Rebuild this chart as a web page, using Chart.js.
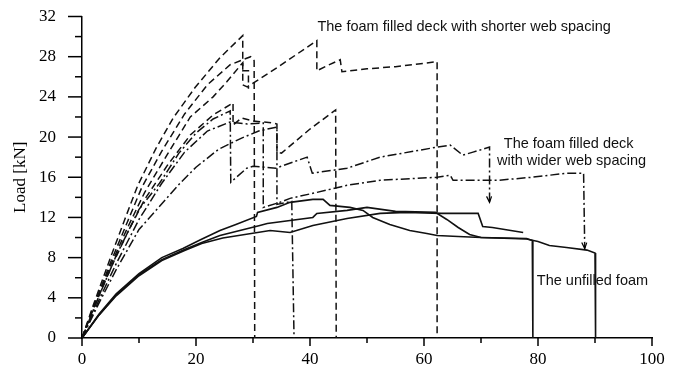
<!DOCTYPE html>
<html><head><meta charset="utf-8">
<script src="https://cdn.jsdelivr.net/npm/chart.js@4.4.1/dist/chart.umd.min.js"></script>
<style>html,body{margin:0;padding:0;background:#fff}#wrap{width:680px;height:376px}</style>
</head><body><div id="wrap"><canvas id="c" width="680" height="376"></canvas></div>
<script>
// Displacement (x) / Load kN (y) pairs
const shorterA_x=[0,2,5,7.5,9.8,13,16,19.8,24.2,28.2,28.2,29,34.2,41.2,41.2,43,45.3,45.6,50,55,62.3,62.3];
const shorterA_y=[0,3.3,8,11.8,15.2,18.9,21.9,24.9,27.9,30.1,25.2,25,26.9,29.6,26.6,27.1,27.7,26.5,26.8,27,27.5,0];
const shorterB_x=[0,2,5,8,10.5,14,18,22,26,29.6,30.2,30.3];
const shorterB_y=[0,3.1,7.5,11.6,15,18.6,22.3,25.2,27.2,28,27.6,0];
const shorterC_x=[0,2,5,8,11,15,19,23,25.4,28.2,28.2,29.2,29.2];
const shorterC_y=[0,3,7.2,11,14.5,18.3,22,24,25.5,27.4,26.6,26.6,24.8];
const shorterD_x=[0,2,5,8,11,15,19,23,26.5,26.5,28,30,33.5,34.2,34.2,35,40,44.5,44.6];
const shorterD_y=[0,2.9,6.9,10.5,13.8,17.2,20.2,22.2,23.4,21.2,21.9,21.6,21.4,21.3,18.5,18.4,20.8,22.7,0];
const widerA_x=[0,3,6,10,13.6,17,20,23,26,26.1,28.9,30,34,39.5,40.4,46.5,52.3,62.3,64.6,66.8,68.6,71.5,71.5];
const widerA_y=[0,4.2,8.2,12.8,15.4,18.4,20.4,21.8,22.6,15.5,16.9,17.1,16.9,18,16.4,16.9,18,19,19.2,18.2,18.5,19,13.5];
const widerB_x=[0,3,6,10,14,18,22,26,29,31.8,31.8,34.7,36.5,40.5,46.5,52.3,62.3,64.6,65.1,73,79,85,88,88.2];
const widerB_y=[0,3.8,7.4,11.8,15.4,18.5,20.6,21.5,21.3,21.4,13,13.5,13.9,14.4,15.2,15.7,16,16.2,15.7,15.7,16,16.4,16.4,8.9];
const widerC_x=[0,3,6,10,17.2,20,24,28,31,34.2,34.2,36.8,37.2];
const widerC_y=[0,3.5,6.8,10.8,15.4,17,18.8,19.9,20.6,21,13.3,13.6,0];
const unfilledA_x=[0,3,6,10,14,17.7,20.7,24.2,27,30.6,30.8,34.2,36.5,40.5,42.3,43.5,47,49.3,51,54,57.5,60.5,62.3,66,70,78,79,79.1];
const unfilledA_y=[0,2.4,4.4,6.4,8,8.9,9.75,10.7,11.3,12.1,12.5,13,13.5,13.8,13.8,13.2,13,12.7,12,11.3,10.7,10.4,10.2,10.1,10,9.9,9.7,0];
const unfilledB_x=[0,3,6,10,14,18,21,24.2,31.2,32.5,40.5,41.2,46.5,50,55,62,64,66,68,70,78,80,82,85,88.6,90,90.1];
const unfilledB_y=[0,2.3,4.3,6.3,7.8,8.8,9.5,10.2,11.2,11.4,12,12.4,12.7,13,12.6,12.5,11.8,11,10.3,10,9.85,9.6,9.2,9,8.75,8.45,0];
const unfilledC_x=[0,3,6,10,14,18,21,24.7,33,36.5,40.5,46.5,52.3,57,63,69.5,70.3,72,77.4];
const unfilledC_y=[0,2.3,4.2,6.2,7.7,8.7,9.4,9.95,10.7,10.5,11.2,11.9,12.4,12.5,12.4,12.4,11.1,11,10.5];
const xTicks=[0,20,40,60,80,100];
const yTicks=[0,4,8,12,16,20,24,28,32];
const labelShorter="The foam filled deck with shorter web spacing";
const labelWider=["The foam filled deck","with wider web spacing"];
const labelUnfilled="The unfilled foam";

const zip=(xs,ys)=>xs.map((x,i)=>({x:x,y:ys[i]}));
const DASH=[7,4], DASHDOT=[9,3,2,3];
function ds(xs,ys,dash,w){return {data:zip(xs,ys),borderColor:'#111',borderWidth:w||1.5,borderDash:dash||[],pointRadius:0,showLine:true,fill:false,tension:0};}
const datasets=[
 ds(shorterA_x,shorterA_y,DASH),ds(shorterB_x,shorterB_y,DASH),ds(shorterC_x,shorterC_y,DASH),ds(shorterD_x,shorterD_y,DASH),
 ds(widerA_x,widerA_y,DASHDOT),ds(widerB_x,widerB_y,DASHDOT),ds(widerC_x,widerC_y,DASHDOT),
 ds(unfilledA_x,unfilledA_y,[],1.6),ds(unfilledB_x,unfilledB_y,[],1.6),ds(unfilledC_x,unfilledC_y,[],1.6)
];
const arrowSets=[4,5];

const deco={id:'deco',
 afterDatasetsDraw(chart){
  const c=chart.ctx,xs=chart.scales.x,ys=chart.scales.y,a=chart.chartArea;
  c.save();
  c.strokeStyle='#000';c.lineWidth=1.5;c.setLineDash([]);
  for(let v=0;v<=32;v+=2){const p=ys.getPixelForValue(v);const L=(v%4===0)?14:7;c.beginPath();c.moveTo(a.left-L,p);c.lineTo(a.left,p);c.stroke();}
  for(let v=0;v<=100;v+=10){const p=xs.getPixelForValue(v);const L=(v%20===0)?8:5;c.beginPath();c.moveTo(p,a.bottom);c.lineTo(p,a.bottom+L);c.stroke();}
  c.lineWidth=1.2;
  arrowSets.forEach(i=>{const d=chart.data.datasets[i].data;const q=d[d.length-1];const px=xs.getPixelForValue(q.x),py=ys.getPixelForValue(q.y);c.beginPath();c.moveTo(px-3,py-6);c.lineTo(px,py);c.lineTo(px+2,py-6);c.stroke();});
  c.fillStyle='#111';c.font='14.5px "Liberation Sans", Arial, sans-serif';c.textBaseline='middle';c.textAlign='left';
  c.fillText(labelShorter,xs.getPixelForValue(41.3),ys.getPixelForValue(31));
  c.fillText(labelWider[0],xs.getPixelForValue(74),ys.getPixelForValue(19.3));
  c.fillText(labelWider[1],xs.getPixelForValue(72.8),ys.getPixelForValue(17.6));
  c.fillText(labelUnfilled,xs.getPixelForValue(79.8),ys.getPixelForValue(5.7));
  c.restore();
 }};

new Chart(document.getElementById('c'),{
 type:'scatter',
 data:{datasets:datasets},
 plugins:[deco],
 options:{responsive:false,animation:false,events:[],
  layout:{padding:{left:0,right:28,top:16.5,bottom:0}},
  plugins:{legend:{display:false},tooltip:{enabled:false}},
  scales:{
   x:{type:'linear',min:0,max:100,afterBuildTicks:s=>{s.ticks=xTicks.map(v=>({value:v}));},
      afterFit:s=>{s.height=38;},
      grid:{display:false,drawTicks:false},border:{display:true,color:'#000',width:1.5},
      ticks:{color:'#000',padding:11,font:{family:'"Liberation Serif", "Times New Roman", serif',size:17}}},
   y:{type:'linear',min:0,max:32,afterBuildTicks:s=>{s.ticks=yTicks.map(v=>({value:v}));},
      afterFit:s=>{s.width=82;},
      grid:{display:true,drawOnChartArea:false,drawTicks:true,tickLength:24,tickColor:'rgba(0,0,0,0)'},border:{display:true,color:'#000',width:1.5},
      title:{display:true,text:'Load [kN]',color:'#000',padding:{top:10,bottom:0},font:{family:'"Liberation Serif", "Times New Roman", serif',size:17}},
      ticks:{color:'#000',padding:2,font:{family:'"Liberation Serif", "Times New Roman", serif',size:17}}}
  }}
});
</script></body></html>
